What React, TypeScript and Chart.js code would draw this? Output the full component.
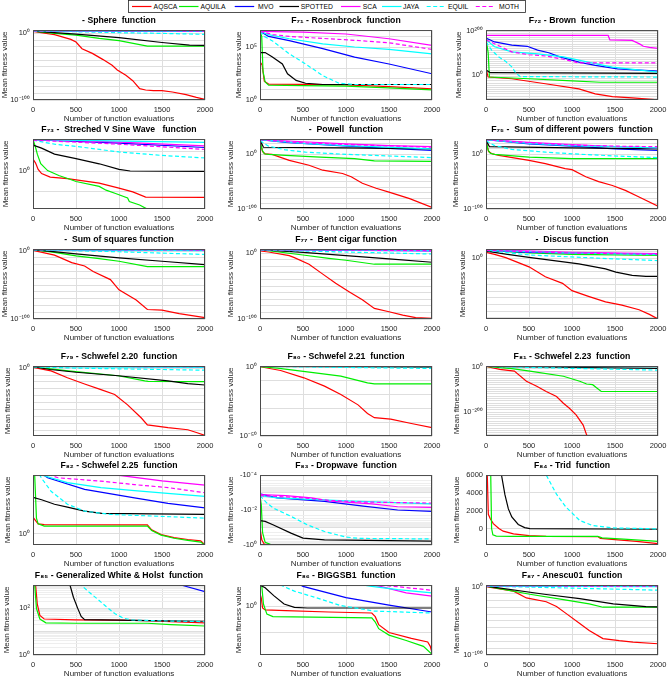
import React, { useEffect, useRef } from 'react';
import { Chart, registerables } from 'chart.js';

Chart.register(...registerables);

// ---------------- series / legend ----------------
const SERIES = ['AQSCA', 'AQUILA', 'MVO', 'SPOTTED', 'SCA', 'JAYA', 'EQUIL', 'MOTH'];
const COLORS = ['#ff0000', '#00ee00', '#0000ff', '#000000', '#ff00ff', '#00ffff', '#00ffff', '#ff00ff'];
const DASHED = [false, false, false, false, false, false, true, true];
const X_TICKS = [0, 500, 1000, 1500, 2000];
const X_LABEL = 'Number of function evaluations';
const Y_LABEL = 'Mean fitness value';

// ---------------- data: [evaluations, mean fitness] per series (legend order) ----------------
const sphere = [
  [[0, 1e3], [250, 1e-2], [440, 1e-9], [500, 1e-13], [570, 1e-23], [690, 1e-30], [810, 1e-39], [920, 1e-48], [980, 1e-55], [1080, 1e-63], [1160, 1e-71], [1240, 1e-83], [1310, 1e-85], [1400, 1e-86], [1500, 1e-86], [1620, 1e-88], [1780, 1e-92], [1900, 1e-96], [2000, 1e-99]],
  [[0, 3e3], [250, 1e0], [500, 3e-3], [770, 3e-8], [1000, 1e-11], [1330, 1e-19], [2000, 1e-19]],
  [[0, 5e3], [1000, 2e3], [2000, 1e3]],
  [[0, 3e3], [500, 1e-1], [1000, 3e-7], [1500, 2e-14], [1820, 2e-18], [2000, 1e-18]],
  [[0, 2e4], [2000, 1e4]],
  [[0, 4e3], [2000, 2e3]],
  [[0, 3e3], [500, 3e2], [1000, 1e1], [1500, 1e0], [2000, 3e-2]],
  [[0, 6e3], [2000, 3e3]],
];
const rosenbrock = [
  [[0, 4e3], [25, 2e3], [50, 60], [100, 32], [500, 30], [1000, 27], [1500, 18], [2000, 11]],
  [[0, 3e6], [20, 1e6], [35, 5e2], [60, 50], [100, 25], [500, 23], [1000, 20], [1500, 14], [2000, 9]],
  [[0, 3e6], [100, 1e6], [340, 4e5], [730, 7e4], [1100, 1.1e4], [1500, 2.5e3], [2000, 300]],
  [[0, 3e4], [60, 3e4], [140, 1.2e4], [260, 2.5e3], [320, 300], [420, 70], [530, 38], [730, 29], [2000, 29]],
  [[0, 3e6], [500, 2.5e6], [1000, 1.7e6], [1500, 6e5], [2000, 1.4e5]],
  [[0, 3e6], [100, 1.5e6], [340, 6e5], [730, 2e5], [1100, 1e5], [1500, 6e4], [2000, 2.3e4]],
  [[0, 3e6], [50, 1e6], [140, 4e5], [340, 2.3e4], [530, 2.5e3], [730, 200], [920, 38], [1100, 29], [2000, 29]],
  [[0, 3e6], [150, 1.5e6], [340, 1e6], [1100, 4.3e5], [1500, 2.5e5], [2000, 6e4]],
];
const brown = [
  [[0, 1e26], [25, 1e-12], [300, 1e-20], [690, 1e-43], [1080, 1e-67], [1270, 1e-90], [1470, 1e-102], [1700, 1e-108], [2000, 1e-117]],
  [[0, 1e165], [25, 1e100], [40, 1e-12], [500, 1e-20], [1000, 1e-30], [1330, 1e-36], [2000, 1e-36]],
  [[0, 1e168], [100, 1e150], [300, 1e135], [480, 1e130], [600, 1e112], [730, 1e100], [850, 1e82], [1080, 1e57], [1270, 1e42], [1530, 1e26], [2000, 1e15]],
  [[0, 1e20], [50, 1e8], [2000, 1e5]],
  [[0, 1e180], [1420, 1e180], [1440, 1e160], [1700, 1e157], [1790, 1e140], [1830, 1e130], [1900, 1e125], [2000, 1e120]],
  [[0, 1e160], [100, 1e128], [300, 1e104], [600, 1e95], [900, 1e81], [1270, 1e50], [1470, 1e34], [2000, 1e11]],
  [[0, 1e150], [70, 1e110], [150, 1e80], [230, 1e60], [300, 1e35], [350, 1e5], [400, 1e-10], [2000, 1e-12]],
  [[0, 1e160], [300, 1e104], [500, 1e91], [700, 1e85], [900, 1e70], [1080, 1e53], [2000, 1e53]],
];
const stretchedV = [
  [[0, 4], [30, 2.5], [60, 1.2], [100, 0.75], [200, 0.5], [400, 0.42], [770, 0.25], [1000, 0.14], [1160, 0.09], [1310, 0.05], [2000, 0.048]],
  [[0, 38], [30, 15], [50, 7], [90, 2.3], [170, 1.05], [300, 0.6], [420, 0.4], [500, 0.3], [770, 0.17], [850, 0.11], [960, 0.075], [1100, 0.045], [1120, 0.03], [1240, 0.02], [1320, 0.013], [1340, 0.001], [2000, 0.001]],
  [[0, 37], [1000, 25], [2000, 15]],
  [[0, 20], [100, 14], [250, 7], [500, 4.2], [770, 2.3], [1000, 1.2], [1130, 1.0], [2000, 0.95]],
  [[0, 38], [1000, 28], [2000, 18]],
  [[0, 37], [2000, 27]],
  [[0, 35], [250, 22], [500, 17], [1000, 9], [1500, 6], [2000, 4.5]],
  [[0, 35], [1000, 22], [2000, 12]],
];
const powell = [
  [[0, 1e25], [30, 1e5], [60, 1e1], [140, 1e0], [340, 1e-11], [570, 1e-20], [730, 1e-29], [960, 1e-35], [1060, 1e-41], [1190, 1e-53], [1350, 1e-62], [1500, 1e-69], [1740, 1e-81], [2000, 1e-97]],
  [[0, 1e25], [25, 1e8], [50, 1e1], [100, 1e0], [300, 1e-2], [700, 1e-5], [1100, 1e-8], [1330, 1e-12], [2000, 1e-13]],
  [[0, 1e27], [300, 1e22], [920, 1e16], [1500, 1e11], [2000, 1e7]],
  [[0, 1e26], [40, 1e13], [1000, 1e12], [2000, 1e10]],
  [[0, 1e27], [500, 1e23], [1000, 1e19], [1500, 1e16], [2000, 1e14]],
  [[0, 1e27], [500, 1e20], [1000, 1e16], [2000, 1e10]],
  [[0, 1e25], [100, 1e15], [300, 1e8], [530, 1e4], [1000, 1e0], [1500, 1e-3], [2000, 1e-6]],
  [[0, 1e27], [500, 1e21], [1000, 1e18], [2000, 1e13]],
];
const diffPowers = [
  [[0, 1e25], [30, 1e5], [70, 1e1], [150, 1e-2], [500, 1e-11], [690, 1e-17], [920, 1e-26], [1000, 1e-28], [1160, 1e-41], [1310, 1e-50], [1470, 1e-57], [1620, 1e-66], [1780, 1e-78], [2000, 1e-95]],
  [[0, 1e25], [25, 1e8], [50, 1e2], [100, 1e0], [500, 1e-5], [1000, 1e-8], [2000, 1e-8]],
  [[0, 1e27], [500, 1e19], [1000, 1e15], [1500, 1e10], [2000, 1e7]],
  [[0, 1e26], [40, 1e14], [1000, 1e12], [2000, 1e10]],
  [[0, 1e27], [500, 1e22], [1000, 1e18], [1500, 1e14], [2000, 1e12]],
  [[0, 1e27], [500, 1e20], [1000, 1e16], [2000, 1e12]],
  [[0, 1e25], [100, 1e16], [300, 1e9], [690, 1e4], [1000, 1e1], [1500, 1e-3], [2000, 1e-6]],
  [[0, 1e27], [500, 1e21], [1000, 1e17], [1500, 1e15], [2000, 1e14]],
];
const sumSquares = [
  [[0, 1e1], [250, 1e-6], [450, 1e-17], [600, 1e-22], [700, 1e-30], [900, 1e-42], [1000, 1e-57], [1200, 1e-72], [1330, 1e-86], [1500, 1e-87], [1700, 1e-92], [2000, 1e-98]],
  [[0, 1e2], [250, 1e-2], [500, 1e-7], [770, 1e-11], [1000, 1e-15], [1330, 1e-23], [2000, 1e-23]],
  [[0, 1e2], [2000, 10]],
  [[0, 1e2], [500, 1e-4], [1000, 1e-10], [1500, 1e-15], [2000, 1e-20]],
  [[0, 3e2], [2000, 1e2]],
  [[0, 1e2], [2000, 3]],
  [[0, 1e2], [1000, 1e-1], [2000, 1e-5]],
  [[0, 2e2], [2000, 30]],
];
const bentCigar = [
  [[0, 1e3], [100, 3e1], [340, 1e-4], [400, 1e-7], [570, 1e-17], [730, 1e-32], [880, 1e-46], [1040, 1e-59], [1190, 1e-71], [1330, 1e-84], [1500, 1e-89], [1660, 1e-94], [1810, 1e-98], [2000, 1e-99]],
  [[0, 1e5], [500, 1e-3], [800, 1e-8], [1000, 1e-11], [1330, 1e-17], [2000, 1e-17]],
  [[0, 1e5], [2000, 1e3]],
  [[0, 1e5], [500, 1e1], [1000, 1e-4], [1500, 1e-9], [2000, 1e-14]],
  [[0, 1e5], [2000, 3e4]],
  [[0, 1e5], [2000, 1e4]],
  [[0, 1e5], [500, 1e3], [1000, 3e1], [1500, 1e0], [2000, 3e-2]],
  [[0, 1e5], [2000, 5e3]],
];
const discus = [
  [[0, 1e9], [100, 1e6], [230, 1e1], [500, 1e-13], [690, 1e-28], [890, 1e-38], [1000, 1e-49], [1200, 1e-58], [1390, 1e-66], [1580, 1e-71], [1780, 1e-78], [1900, 1e-85], [2000, 1e-92]],
  [[0, 1e12], [500, 1e8], [1000, 1e6], [2000, 3e4]],
  [[0, 1e12], [500, 1e9], [2000, 3e6]],
  [[0, 1e11], [250, 1e6], [500, 3e1], [1080, 3e-9], [1390, 1e-16], [1510, 1e-21], [1700, 1e-26], [1860, 3e-28], [2000, 3e-28]],
  [[0, 1e13], [1000, 1e9], [2000, 1e7]],
  [[0, 1e12], [1000, 1e8], [2000, 3e5]],
  [[0, 1e12], [500, 1e5], [1000, 1e2], [1500, 1e-1], [2000, 3e-4]],
  [[0, 1e12], [1000, 1e8], [2000, 1e6]],
];
const schwefel220 = [
  [[0, 1e1], [210, 1e-4], [400, 1e-14], [600, 1e-23], [790, 1e-31], [950, 1e-38], [1100, 1e-53], [1260, 1e-72], [1330, 1e-82], [1570, 1e-86], [1800, 1e-89], [1900, 1e-93], [2000, 1e-97]],
  [[0, 1e2], [410, 1e-4], [990, 1e-11], [1300, 3e-19], [1340, 1e-19], [2000, 3e-20]],
  [[0, 3e2], [2000, 1e2]],
  [[0, 1e2], [200, 1e-2], [500, 1e-6], [990, 1e-11], [1570, 3e-19], [1800, 4e-23], [2000, 4e-25]],
  [[0, 5e2], [2000, 3e2]],
  [[0, 1e2], [2000, 10]],
  [[0, 1e2], [500, 1e0], [1000, 1e-1], [2000, 1e-3]],
  [[0, 3e2], [2000, 1.5e2]],
];
const schwefel221 = [
  [[0, 1], [240, 2e-3], [510, 1e-8], [750, 1e-14], [940, 1e-20], [1140, 3e-28], [1250, 2e-34], [1330, 1.6e-37], [1520, 1.6e-38], [1760, 1e-41], [2000, 1e-44]],
  [[0, 1], [200, 0.1], [550, 2e-4], [940, 1.6e-7], [1250, 2e-12], [1330, 4e-13], [2000, 4e-13]],
  [[0, 2.5], [2000, 1.5]],
  [[0, 2], [2000, 0.6]],
  [[0, 2.5], [2000, 2]],
  [[0, 2.5], [2000, 1.2]],
  [[0, 2], [1000, 0.3], [2000, 0.06]],
  [[0, 2.5], [2000, 1.8]],
];
const schwefel223 = [
  [[0, 10], [160, 1e-12], [330, 1e-19], [470, 1e-64], [590, 1e-86], [700, 1e-109], [820, 1e-131], [900, 1e-161], [970, 1e-183], [1050, 1e-213], [1130, 1e-257], [1170, 1e-300], [1190, 1e-307]],
  [[0, 10], [300, 1e-8], [510, 1e-19], [900, 1e-42], [1090, 1e-64], [1170, 1e-76], [1240, 1e-79], [1340, 1e-109], [2000, 1e-109]],
  [[0, 30], [2000, 10]],
  [[0, 30], [1000, 1e-3], [2000, 1e-7]],
  [[0, 50], [2000, 30]],
  [[0, 20], [2000, 3]],
  [[0, 30], [500, 1e-3], [1000, 1e-7], [2000, 1e-15]],
  [[0, 40], [2000, 15]],
];
const schwefel225 = [
  [[0, 3.2], [30, 2.5], [60, 2], [130, 1.9], [1330, 1.85], [1380, 1.3], [1490, 0.93], [1640, 0.75], [1800, 0.66], [1950, 0.6], [2000, 0.45]],
  [[0, 1e3], [20, 60], [40, 3], [60, 2], [130, 1.7], [1330, 1.7], [1380, 1.25], [1490, 0.9], [1640, 0.72], [1800, 0.62], [1950, 0.55], [2000, 0.44]],
  [[0, 150], [100, 70], [170, 52], [600, 23], [1180, 12.6], [1570, 8.5], [2000, 6.2]],
  [[0, 13], [100, 11], [250, 8], [400, 6.5], [600, 4.9], [800, 4.2], [2000, 3.9]],
  [[0, 300], [500, 120], [980, 63], [1500, 42], [2000, 31]],
  [[0, 150], [100, 63], [400, 37], [790, 26], [1180, 21], [1600, 17], [2000, 14]],
  [[0, 150], [100, 50], [210, 20], [400, 8], [600, 4.9], [900, 3.9], [2000, 3.0]],
  [[0, 150], [150, 70], [290, 52], [790, 41], [1180, 32], [1570, 26], [2000, 18]],
];
const dropwave = [
  [[0, -0.1], [20, -0.5], [50, -0.9], [100, -0.99], [2000, -1]],
  [[0, -1.5e-3], [15, -5e-3], [30, -0.2], [60, -0.7], [120, -0.92], [2000, -0.99]],
  [[0, -1.2e-3], [200, -2e-3], [750, -3.2e-3], [1200, -6e-3], [1600, -1e-2], [2000, -1.2e-2]],
  [[0, -0.04], [60, -0.045], [150, -0.07], [360, -0.21], [500, -0.4], [750, -0.51], [2000, -0.6]],
  [[0, -1.3e-3], [300, -1.5e-3], [600, -2e-3], [800, -3e-3], [1000, -3.5e-3], [1300, -4.5e-3], [1600, -6.5e-3], [2000, -7e-3]],
  [[0, -1.5e-3], [200, -2e-3], [1000, -3e-3], [2000, -4.5e-3]],
  [[0, -1.5e-3], [80, -4e-3], [160, -8e-3], [360, -0.023], [550, -0.07], [750, -0.17], [1000, -0.35], [1150, -0.42], [2000, -0.45]],
  [[0, -1.5e-3], [500, -2e-3], [800, -2.8e-3], [1200, -3.5e-3], [2000, -4e-3]],
];
const trid = [
  [[0, 2e4], [15, 6000], [27, 1600], [50, 1100], [85, 550], [150, 0], [200, -300], [320, -600], [500, -800], [700, -880], [1300, -900], [1330, -1100], [1500, -1250], [1750, -1450], [2000, -1700]],
  [[0, 2e4], [40, 1e4], [55, 6000], [65, 0], [80, -700], [120, -850], [300, -880], [1300, -890], [1350, -1050], [1600, -1200], [2000, -1450]],
  [[0, 5e4], [2000, 2e4]],
  [[0, 1e5], [150, 2e4], [180, 6000], [220, 3800], [260, 2200], [300, 1300], [375, 450], [450, 100], [510, -20], [2000, -80]],
  [[0, 6e4], [2000, 3e4]],
  [[0, 5e4], [2000, 1.5e4]],
  [[0, 1e6], [600, 1.5e4], [700, 6000], [820, 3850], [930, 2400], [1090, 900], [1240, 330], [1470, 70], [2000, -40]],
  [[0, 6e4], [2000, 2e4]],
];
const whiteHolst = [
  [[0, 1e4], [30, 1e3], [50, 150], [80, 50], [130, 35], [500, 32], [1000, 31], [1330, 30], [1600, 27], [2000, 24]],
  [[0, 1e4], [20, 1e3], [40, 100], [80, 35], [150, 24], [500, 23], [1000, 23], [1330, 23], [1600, 20], [2000, 17.5]],
  [[0, 1e5], [1000, 5e3], [1720, 1000], [2000, 520]],
  [[0, 1e5], [400, 1e4], [430, 1e3], [470, 300], [520, 100], [560, 45], [600, 33], [1000, 31], [1330, 30], [2000, 28]],
  [[0, 1e6], [2000, 1e5]],
  [[0, 1e6], [2000, 5e4]],
  [[0, 1e5], [500, 3e3], [560, 1e3], [650, 500], [750, 250], [850, 120], [950, 60], [1050, 38], [1150, 32], [1500, 29], [2000, 27]],
  [[0, 1e6], [2000, 8e4]],
];
const biggsb1 = [
  [[0, 3], [15, 2], [30, 0.85], [60, 0.72], [300, 0.68], [800, 0.6], [1300, 0.55], [1340, 0.4], [1380, 0.2], [1500, 0.1], [1760, 0.06], [1950, 0.044], [1980, 0.03], [2000, 0.017]],
  [[0, 60], [20, 6.3], [40, 1.2], [80, 0.5], [150, 0.4], [1300, 0.36], [1340, 0.25], [1380, 0.14], [1500, 0.08], [1700, 0.05], [1900, 0.03], [2000, 0.015]],
  [[0, 50], [500, 5.6], [1000, 2.1], [1500, 1.1], [2000, 0.6]],
  [[0, 6.3], [60, 5], [160, 2.5], [280, 1.2], [400, 0.9], [550, 0.85], [2000, 0.85]],
  [[0, 60], [1000, 9], [1400, 5.6], [1700, 3.2], [2000, 2.4]],
  [[0, 50], [1000, 8], [1300, 5.6], [1600, 4.2], [2000, 3.2]],
  [[0, 60], [240, 6.3], [400, 3.7], [630, 2.2], [940, 1.05], [1330, 0.65], [2000, 0.55]],
  [[0, 60], [1000, 10], [1500, 5.9], [2000, 4]],
];
const anescu01 = [
  [[0, 1], [320, 3e-7], [470, 4e-17], [700, 1e-22], [820, 1e-29], [930, 1e-39], [1090, 1e-54], [1200, 1e-64], [1360, 1e-76], [1550, 1e-79], [1710, 1e-81], [2000, 3e-84]],
  [[0, 10], [510, 1e-11], [900, 1e-19], [1200, 1e-25], [1360, 1e-30], [2000, 1e-30]],
  [[0, 10], [2000, 3]],
  [[0, 10], [700, 4e-12], [1090, 4e-18], [1480, 1e-25], [1860, 1e-29], [2000, 3e-30]],
  [[0, 30], [2000, 10]],
  [[0, 10], [2000, 2]],
  [[0, 10], [1000, 1e-2], [2000, 1e-5]],
  [[0, 20], [2000, 5]],
];

// ---------------- layout / style ----------------
const FONT = '"Liberation Sans", Arial, Helvetica, sans-serif';
const TXT = '#262626';
const GRID_MAJOR = '#dedede';
const GRID_MINOR = '#eeeeee';
const ROW_TOP = [30, 139, 249, 366, 475, 585];
const COL_LEFT = [33, 260, 486];
const PLOT_W = 172;
const PLOT_H = 70;
const TITLE_H = 15;
const X_AXIS_H = 24;
const RIGHT_PAD = 14;

const SUP: Record<string, string> = { '0': '⁰', '1': '¹', '2': '²', '3': '³', '4': '⁴', '5': '⁵', '6': '⁶', '7': '⁷', '8': '⁸', '9': '⁹', '-': '⁻' };
const sup = (s: string) => s.split('').map((c) => SUP[c] ?? c).join('');
const decades = (lo: number, hi: number, step = 1) => {
  const out: number[] = [];
  for (let e = lo; e <= hi; e += step) out.push(Math.pow(10, e));
  return out;
};
const minors = (lo: number, hi: number) => {
  const out: number[] = [];
  for (let e = lo; e < hi; e++) for (let k = 2; k <= 9; k++) out.push(k * Math.pow(10, e));
  return out;
};

type PanelSpec = {
  title: string; data: number[][][]; row: number; col: number; yOff: number;
  type: 'log' | 'neglog' | 'linear'; min: number; max: number; ticks: number[]; grid: number[]; minor?: number[];
};

const PANELS: PanelSpec[] = [
  { title: '- Sphere  function', data: sphere, row: 0, col: 0, yOff: 28, type: 'log', min: 1e-100, max: 1e5, ticks: [1e-100, 1], grid: decades(-100, 0, 10) },
  { title: 'F₇₁ - Rosenbrock  function', data: rosenbrock, row: 0, col: 1, yOff: 21, type: 'log', min: 1, max: 4e6, ticks: [1, 1e5], grid: decades(0, 6, 1) },
  { title: 'F₇₂ - Brown  function', data: brown, row: 0, col: 2, yOff: 27.5, type: 'log', min: 1e-118, max: 1e205, ticks: [1, 1e200], grid: decades(-110, 200, 10) },
  { title: 'F₇₃ -  Streched V Sine Wave   function', data: stretchedV, row: 1, col: 0, yOff: 26.7, type: 'log', min: 0.0126, max: 39.8, ticks: [1], grid: decades(-1, 1, 1) },
  { title: '-  Powell  function', data: powell, row: 1, col: 1, yOff: 29.5, type: 'log', min: 1e-100, max: 1e28, ticks: [1e-100, 1], grid: decades(-100, 20, 10) },
  { title: 'F₇₅ -  Sum of different powers  function', data: diffPowers, row: 1, col: 2, yOff: 30, type: 'log', min: 1e-100, max: 1e28, ticks: [1e-100, 1], grid: decades(-100, 20, 10) },
  { title: '-  Sum of squares function', data: sumSquares, row: 2, col: 0, yOff: 28, type: 'log', min: 1e-100, max: 1e3, ticks: [1e-100, 1], grid: decades(-100, 0, 10) },
  { title: 'F₇₇ -  Bent cigar function', data: bentCigar, row: 2, col: 1, yOff: 29.5, type: 'log', min: 1e-100, max: 1e6, ticks: [1e-100, 1], grid: decades(-100, 0, 10) },
  { title: '-  Discus function', data: discus, row: 2, col: 2, yOff: 23, type: 'log', min: 1e-92, max: 1e14, ticks: [1], grid: decades(-90, 10, 10) },
  { title: 'F₇₉ - Schwefel 2.20  function', data: schwefel220, row: 3, col: 0, yOff: 25, type: 'log', min: 1e-98, max: 1e3, ticks: [1], grid: decades(-90, 0, 10) },
  { title: 'F₈₀ - Schwefel 2.21  function', data: schwefel221, row: 3, col: 1, yOff: 29.5, type: 'log', min: 1e-50, max: 3.16, ticks: [1e-50, 1], grid: decades(-50, 0, 10) },
  { title: 'F₈₁ - Schwefel 2.23  function', data: schwefel223, row: 3, col: 2, yOff: 29, type: 'log', min: 1e-305, max: 1e3, ticks: [1e-200, 1], grid: decades(-300, 0, 10) },
  { title: 'F₈₂ - Schwefel 2.25  function', data: schwefel225, row: 4, col: 0, yOff: 24.7, type: 'log', min: 0.447, max: 63.1, ticks: [1], grid: decades(0, 1, 1) },
  { title: 'F₈₃ - Dropwave  function', data: dropwave, row: 4, col: 1, yOff: 29.5, type: 'neglog', min: 1e-4, max: 1, ticks: [1e-4, 1e-2, 1], grid: decades(-4, 0, 1), minor: minors(-4, 0) },
  { title: 'F₈₄ - Trid  function', data: trid, row: 4, col: 2, yOff: 29.5, type: 'linear', min: -1850, max: 6000, ticks: [0, 2000, 4000, 6000], grid: [0, 2000, 4000, 6000] },
  { title: 'F₈₅ - Generalized White & Holst  function', data: whiteHolst, row: 5, col: 0, yOff: 26, type: 'log', min: 1, max: 1e3, ticks: [1, 100], grid: decades(0, 3, 1), minor: minors(0, 3) },
  { title: 'F₈₆ - BIGGSB1  function', data: biggsb1, row: 5, col: 1, yOff: 21.5, type: 'log', min: 0.0141, max: 6.31, ticks: [1], grid: decades(-1, 0, 1) },
  { title: 'F₈₇ - Anescu01  function', data: anescu01, row: 5, col: 2, yOff: 29, type: 'log', min: 1e-100, max: 316, ticks: [1e-100, 1], grid: decades(-100, 0, 10) },
];

const LEGEND_POS = [[132, 153.6], [179, 200.5], [234.7, 258], [279.5, 300.8], [341, 362.7], [382, 403], [426.7, 448], [475.8, 499]];

Chart.defaults.font.family = FONT;

function same(a: number, b: number, type: string) {
  if (type === 'linear') return Math.abs(a - b) < 1e-9;
  return Math.abs(Math.log10(a) - Math.log10(b)) < 1e-6;
}

function tickText(v: number, type: string) {
  if (type === 'linear') return String(v);
  const e = String(Math.round(Math.log10(v)));
  return (type === 'neglog' ? '-10' : '10') + sup(e);
}

const framePlugin = {
  id: 'frame',
  afterDraw(chart: any) {
    const { ctx, chartArea: a } = chart;
    ctx.save();
    ctx.strokeStyle = '#4a4a4a';
    ctx.lineWidth = 1;
    ctx.strokeRect(a.left + 0.5, a.top + 0.5, a.right - a.left - 1, a.bottom - a.top - 1);
    ctx.restore();
  },
};

function buildConfig(p: PanelSpec, W: number): any {
  const neg = p.type === 'neglog';
  const datasets = SERIES.map((name, i) => ({
    label: name,
    data: p.data[i].map((pt) => [pt[0], neg ? -pt[1] : pt[1]]),
    borderColor: COLORS[i],
    backgroundColor: COLORS[i],
    borderWidth: 1.2,
    borderDash: DASHED[i] ? [4, 2.5] : [],
    pointRadius: 0,
    tension: 0,
    fill: false,
    order: SERIES.length - 1 - i,
  }));
  const yTickObjs: { value: number; minor: boolean }[] = [
    ...p.grid.map((v) => ({ value: v, minor: false })),
    ...(p.minor || []).map((v) => ({ value: v, minor: true })),
  ];
  p.ticks.forEach((t) => {
    if (!yTickObjs.some((o) => same(o.value, t, p.type))) yTickObjs.push({ value: t, minor: false });
  });
  yTickObjs.sort((a, b) => a.value - b.value);

  return {
    type: 'line',
    data: { datasets },
    plugins: [framePlugin],
    options: {
      responsive: false,
      animation: false,
      events: [],
      devicePixelRatio: 1,
      layout: { padding: { left: 0, right: RIGHT_PAD, top: 0, bottom: 0 } },
      plugins: {
        legend: { display: false },
        tooltip: { enabled: false },
        title: {
          display: true,
          text: p.title,
          color: '#000',
          fullSize: false,
          font: { family: FONT, size: 8.7, weight: 'bold', lineHeight: 1.2 },
          padding: { top: 0.8, bottom: 3.8 },
        },
      },
      scales: {
        x: {
          type: 'linear',
          min: 0,
          max: 2000,
          afterBuildTicks: (s: any) => { s.ticks = X_TICKS.map((v) => ({ value: v })); },
          afterFit: (s: any) => { s.height = X_AXIS_H; s.paddingLeft = 0; s.paddingRight = 0; },
          ticks: { autoSkip: false, maxRotation: 0, padding: 5, color: TXT, font: { family: FONT, size: 7.5 }, callback: (v: any) => String(v) },
          grid: { color: GRID_MAJOR, drawTicks: false, lineWidth: 1 },
          border: { display: false },
          title: { display: true, text: X_LABEL, color: TXT, font: { family: FONT, size: 8, lineHeight: 1.2 }, padding: 0 },
        },
        y: {
          type: p.type === 'linear' ? 'linear' : 'logarithmic',
          min: p.min,
          max: p.max,
          reverse: neg,
          afterBuildTicks: (s: any) => { s.ticks = yTickObjs.map((o) => ({ value: o.value, minor: o.minor })); },
          afterFit: (s: any) => { s.width = W; s.paddingTop = 0; s.paddingBottom = 0; },
          ticks: {
            autoSkip: false,
            padding: 3,
            color: TXT,
            font: { family: FONT, size: 7.5 },
            callback: (v: any) => {
              const hit = p.ticks.find((t) => same(t, Number(v), p.type));
              return hit === undefined ? '' : tickText(hit, p.type);
            },
          },
          grid: {
            color: (c: any) => (c.tick && c.tick.minor ? GRID_MINOR : GRID_MAJOR),
            drawTicks: false,
            lineWidth: 1,
          },
          border: { display: false },
          title: { display: true, text: Y_LABEL, color: TXT, font: { family: FONT, size: 8, lineHeight: 1.2 }, padding: 0 },
        },
      },
    },
  };
}

function PanelChart({ p }: { p: PanelSpec }) {
  const ref = useRef<HTMLCanvasElement | null>(null);
  const W = Math.round(p.yOff + 4.8);
  const left = COL_LEFT[p.col] - W;
  const top = ROW_TOP[p.row] - TITLE_H;
  const width = W + PLOT_W + RIGHT_PAD;
  const height = TITLE_H + PLOT_H + X_AXIS_H;
  useEffect(() => {
    if (!ref.current) return;
    const chart = new Chart(ref.current, buildConfig(p, W));
    return () => chart.destroy();
  }, []);
  return (
    <canvas
      ref={ref}
      width={width}
      height={height}
      style={{ position: 'absolute', left, top, width, height }}
    />
  );
}

function Legend() {
  return (
    <svg width={669} height={16} style={{ position: 'absolute', left: 0, top: 0 }}>
      <rect x={128.5} y={0.5} width={397} height={12} fill="#fff" stroke="#262626" strokeWidth={0.8} />
      {SERIES.map((name, i) => (
        <g key={name}>
          <line
            x1={LEGEND_POS[i][0]}
            x2={LEGEND_POS[i][0] + 19.5}
            y1={6.5}
            y2={6.5}
            stroke={COLORS[i]}
            strokeWidth={1.2}
            strokeDasharray={DASHED[i] ? '4 2.5' : undefined}
          />
          <text x={LEGEND_POS[i][1]} y={6.7} fontSize={6.8} fontFamily={FONT} fill="#000" dominantBaseline="central">
            {name}
          </text>
        </g>
      ))}
    </svg>
  );
}

export default function App() {
  return (
    <div style={{ position: 'absolute', left: 0, top: 0, width: 669, height: 678, background: '#fff', overflow: 'hidden' }}>
      {PANELS.map((p, i) => (
        <PanelChart key={i} p={p} />
      ))}
      <Legend />
    </div>
  );
}
